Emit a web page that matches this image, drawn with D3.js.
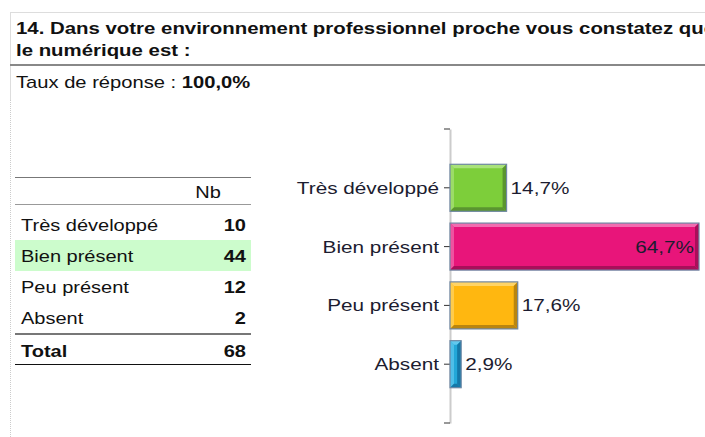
<html>
<script src="https://d3js.org/d3.v7.min.js"></script>
<style>
  body { margin: 0; background: #fff; }
  text { font-family: Arial, "Liberation Sans", sans-serif; }
</style>
<body>
<svg width="705" height="437"></svg>
<script>
// data
var categories = ["Très développé", "Bien présent", "Peu présent", "Absent"];
var counts = [10, 44, 12, 2];
var percents = [14.7, 64.7, 17.6, 2.9];
var total = 68;
var colors = ["#7dce3a", "#e8157a", "#ffb710", "#23a8d8"];
var lightColors = ["#a9e27a", "#f26cb0", "#ffd466", "#62c9ef"];
var darkColors = ["#5a9530", "#a80f5a", "#b9850f", "#1478a8"];

var svg = d3.select("svg");
var SX = 1.25; // the picture is a bit wider than plain Arial

function txt(g, x, y, s, size, weight, anchor, fill, sx) {
  return g.append("text")
    .attr("transform", "translate(" + x + "," + y + ") scale(" + (sx || SX) + ",1)")
    .attr("font-size", size)
    .attr("font-weight", weight || "normal")
    .attr("text-anchor", anchor || "start")
    .attr("fill", fill || "#111")
    .text(s);
}

// frame
svg.append("line").attr("x1", 10).attr("x2", 705).attr("y1", 12.5).attr("y2", 12.5)
  .attr("stroke", "#ddd");
svg.append("line").attr("x1", 10.5).attr("x2", 10.5).attr("y1", 12).attr("y2", 100)
  .attr("stroke", "#ddd");
svg.append("line").attr("x1", 10.5).attr("x2", 10.5).attr("y1", 100).attr("y2", 437)
  .attr("stroke", "#ccc").attr("stroke-dasharray", "1,1");
svg.append("line").attr("x1", 10).attr("x2", 705).attr("y1", 65).attr("y2", 65)
  .attr("stroke", "#888").attr("stroke-width", 2);

// title (cut at the right edge, as in the original)
txt(svg, 16, 34, "14. Dans votre environnement professionnel proche vous constatez que", 17, "bold", "start", "#111", 1.2);
txt(svg, 16, 56, "le numérique est :", 17, "bold", "start", "#111", 1.2);
var taux = svg.append("text")
  .attr("transform", "translate(16,88) scale(1.26,1)")
  .attr("font-size", 16).attr("fill", "#111");
taux.append("tspan").text("Taux de réponse : ");
taux.append("tspan").attr("font-weight", "bold").text("100,0%");

// table
var tbl = svg.append("g");
var rowY = d3.scaleBand().domain(categories).range([209, 333]);
tbl.append("rect").attr("x", 15).attr("width", 236)
  .attr("y", rowY("Bien présent")).attr("height", rowY.bandwidth())
  .attr("fill", "#ccfccc");
tbl.append("line").attr("x1", 15).attr("x2", 251).attr("y1", 177.5).attr("y2", 177.5).attr("stroke", "#777");
tbl.append("line").attr("x1", 15).attr("x2", 251).attr("y1", 204.5).attr("y2", 204.5).attr("stroke", "#999");
tbl.append("line").attr("x1", 15).attr("x2", 251).attr("y1", 334).attr("y2", 334).attr("stroke", "#777").attr("stroke-width", 2);
tbl.append("line").attr("x1", 15).attr("x2", 251).attr("y1", 364.5).attr("y2", 364.5).attr("stroke", "#111");
txt(tbl, 208, 198, "Nb", 16, "normal", "middle");
categories.forEach(function(c, i) {
  var yb = rowY(c) + rowY.bandwidth() / 2 + 6;
  txt(tbl, 21, yb, c, 16);
  txt(tbl, 246, yb, counts[i], 16, "bold", "end");
});
txt(tbl, 21, 357, "Total", 16, "bold");
txt(tbl, 246, 357, total, 16, "bold", "end");

// chart
var y = d3.scaleBand().domain(categories).range([129, 423])
  .paddingInner(0.2).paddingOuter(0.6);
var x = d3.scaleLinear().domain([0, d3.max(percents)]).range([450, 699]);

var ax = svg.append("g").attr("transform", "translate(450,0)")
  .call(d3.axisLeft(y).tickSize(6).tickSizeOuter(0).tickFormat(""));
ax.select(".domain").attr("stroke", "#ccc").attr("stroke-width", 2);
ax.selectAll(".tick line").attr("stroke", "#333");
y.range().forEach(function(v) {
  ax.append("line").attr("x1", -6).attr("x2", 0).attr("y1", v).attr("y2", v).attr("stroke", "#333");
});

var fmt = function(v) { return v.toFixed(1).replace(".", ",") + "%"; };
var b = 4;
categories.forEach(function(c, i) {
  var x0 = x(0), x1 = x(percents[i]), y0 = y(c), y1 = y(c) + y.bandwidth();
  var g = svg.append("g");
  g.append("rect").attr("x", x0).attr("y", y0).attr("width", x1 - x0).attr("height", y1 - y0)
    .attr("fill", colors[i]);
  var bb = Math.min(b, (x1 - x0) / 2);
  g.append("polygon").attr("fill", lightColors[i])
    .attr("points", [[x0, y0], [x1, y0], [x1 - bb, y0 + b], [x0 + bb, y0 + b]].join(" "));
  g.append("polygon").attr("fill", lightColors[i]).attr("opacity", 0.7)
    .attr("points", [[x0, y0], [x0 + bb, y0 + b], [x0 + bb, y1 - b], [x0, y1]].join(" "));
  g.append("polygon").attr("fill", darkColors[i])
    .attr("points", [[x0, y1], [x1, y1], [x1 - bb, y1 - b], [x0 + bb, y1 - b]].join(" "));
  g.append("polygon").attr("fill", darkColors[i])
    .attr("points", [[x1, y0], [x1, y1], [x1 - bb, y1 - b], [x1 - bb, y0 + b]].join(" "));
  g.append("rect").attr("x", x0).attr("y", y0).attr("width", x1 - x0).attr("height", y1 - y0)
    .attr("fill", "none").attr("stroke", "#7088a4").attr("stroke-width", 1.2);

  var cy = y0 + y.bandwidth() / 2 + 6;
  txt(svg, 439, cy, c, 17, "normal", "end", "#1c1c30", 1.22);
  if (x1 > 640) txt(svg, x1 - 5, cy, fmt(percents[i]), 17, "normal", "end", "#1c1c30", 1.22);
  else txt(svg, x1 + 4, cy, fmt(percents[i]), 17, "normal", "start", "#1c1c30", 1.22);
});
</script>
</body>
</html>
